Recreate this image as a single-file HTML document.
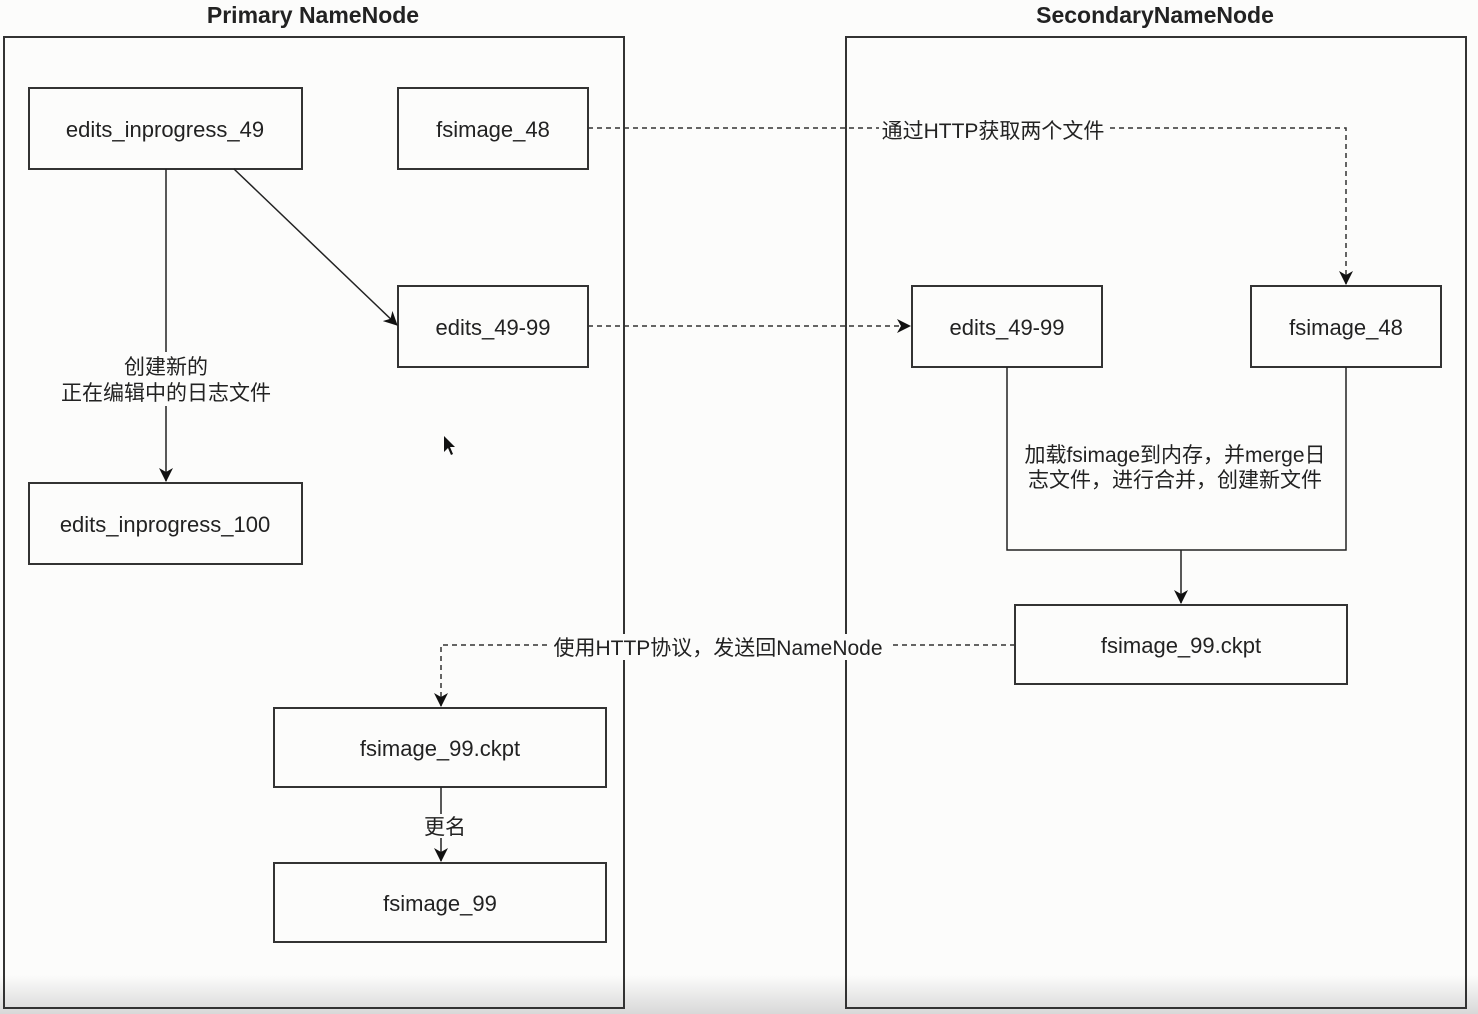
<!DOCTYPE html>
<html><head><meta charset="utf-8"><style>
html,body{margin:0;padding:0;background:#fcfcfb;}
svg{display:block;}
text{font-family:"Liberation Sans","Noto Sans CJK SC",sans-serif;fill:#222;}
</style></head><body>
<svg width="1478" height="1014" viewBox="0 0 1478 1014" xmlns="http://www.w3.org/2000/svg">
<defs>
<marker id="a" markerWidth="14" markerHeight="14" refX="13" refY="7" orient="auto" markerUnits="userSpaceOnUse">
<path d="M0,0 L14,7 L0,14 L4,7 z" fill="#111"/></marker>
<linearGradient id="g" x1="0" y1="0" x2="0" y2="1"><stop offset="0" stop-color="#fcfcfb"/><stop offset="1" stop-color="#d8d8d8"/></linearGradient>
</defs>
<rect x="0" y="975" width="1478" height="39" fill="url(#g)"/>
<g fill="none" stroke="#333" stroke-width="2">
<rect x="4" y="37" width="620" height="971"/>
<rect x="846" y="37" width="620" height="971"/>
<rect x="29" y="88" width="273" height="81"/>
<rect x="398" y="88" width="190" height="81"/>
<rect x="398" y="286" width="190" height="81"/>
<rect x="29" y="483" width="273" height="81"/>
<rect x="912" y="286" width="190" height="81"/>
<rect x="1251" y="286" width="190" height="81"/>
<rect x="1015" y="605" width="332" height="79"/>
<rect x="274" y="708" width="332" height="79"/>
<rect x="274" y="863" width="332" height="79"/>
</g>
<g fill="none" stroke="#222" stroke-width="1.5">
<path d="M1007,367 V550 H1346 V367"/>
<path d="M1181,550 V603" marker-end="url(#a)"/>
<path d="M166,169 V481" marker-end="url(#a)"/>
<path d="M234,169 L397,325" marker-end="url(#a)"/>
<path d="M441,787 V861" marker-end="url(#a)"/>
</g>
<g fill="none" stroke="#333" stroke-width="1.5" stroke-dasharray="5,4">
<path d="M588,128 H1346 V284" marker-end="url(#a)"/>
<path d="M588,326 H910" marker-end="url(#a)"/>
<path d="M1015,645 H441 V706" marker-end="url(#a)"/>
</g>
<g font-size="22" text-anchor="middle">
<text x="313" y="23" font-size="23" font-weight="bold">Primary NameNode</text>
<text x="1155" y="23" font-size="23" font-weight="bold">SecondaryNameNode</text>
<text x="165" y="137">edits_inprogress_49</text>
<text x="493" y="137">fsimage_48</text>
<text x="493" y="335">edits_49-99</text>
<text x="165" y="532">edits_inprogress_100</text>
<text x="1007" y="335">edits_49-99</text>
<text x="1346" y="335">fsimage_48</text>
<text x="1181" y="653">fsimage_99.ckpt</text>
<text x="440" y="756">fsimage_99.ckpt</text>
<text x="440" y="911">fsimage_99</text>
</g>
<g font-size="21" text-anchor="middle">
<rect x="879" y="116" width="228" height="26" fill="#fcfcfb"/>
<text x="993" y="138">通过HTTP获取两个文件</text>
<rect x="547" y="634" width="342" height="26" fill="#fcfcfb"/>
<text x="718" y="655">使用HTTP协议，发送回NameNode</text>
<rect x="58" y="352" width="218" height="54" fill="#fcfcfb"/>
<text x="166" y="374">创建新的</text>
<text x="166" y="400">正在编辑中的日志文件</text>
<rect x="422" y="814" width="44" height="24" fill="#fcfcfb"/>
<text x="445" y="834">更名</text>
<text x="1175" y="462">加载fsimage到内存，并merge日</text>
<text x="1175" y="487">志文件，进行合并，创建新文件</text>
</g>
<path d="M444,436 L444,452 L448,448 L451,455 L453,454 L450,447 L455,447 Z" fill="#111"/>
</svg>
</body></html>
